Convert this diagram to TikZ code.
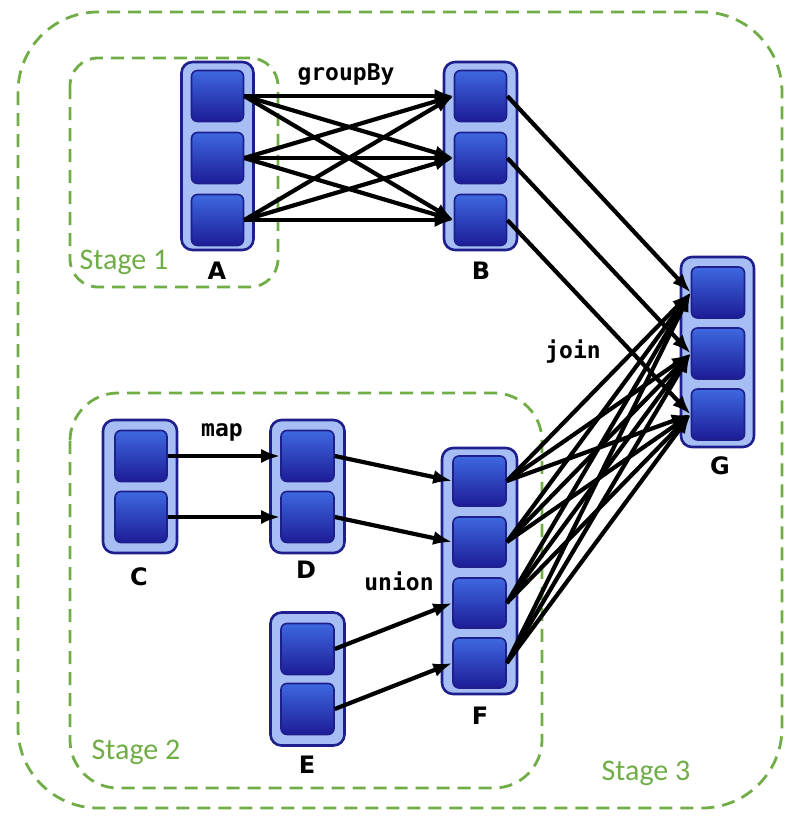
\documentclass[tikz,border=0pt]{standalone}
\usepackage{fontspec}
\usetikzlibrary{arrows.meta}
\newfontfamily\codefont{DejaVu Sans Mono}
\newfontfamily\letterfont{DejaVu Sans}
\newfontfamily\stagefont{Carlito}

\definecolor{navy}{RGB}{30,30,140}
\definecolor{rddfill}{RGB}{166,190,244}
\definecolor{parttop}{RGB}{62,104,224}
\definecolor{partbot}{RGB}{28,28,150}
\definecolor{stagegreen}{RGB}{112,173,71}

\tikzset{
  part/.style={draw=navy, line width=1.6pt, rounded corners=6pt,
    top color=parttop, bottom color=partbot,
    minimum width=52pt, minimum height=51pt, inner sep=0pt},
  rdd/.style={draw=navy, line width=2.6pt, rounded corners=11pt,
    fill=rddfill, inner sep=0pt},
  stagebox/.style={draw=stagegreen, line width=2.8pt,
    dash pattern=on 13pt off 8pt},
  stagelabel/.style={text=stagegreen, font=\stagefont\fontsize{30}{34}\selectfont},
  rddname/.style={font=\letterfont\bfseries\fontsize{24}{28}\selectfont},
  oplabel/.style={font=\codefont\bfseries\fontsize{23}{27}\selectfont},
  flow/.style={line width=4.2pt, -{Latex[length=19pt,width=14pt]}},
}

\begin{document}
\begin{tikzpicture}[x=1pt, y=-1pt]
\useasboundingbox (0,0) rectangle (795,822);

% stages
\draw[stagebox, rounded corners=80pt] (18,12) rectangle (782,808);
\draw[stagebox, rounded corners=28pt] (70,58) rectangle (278,287);
\draw[stagebox, rounded corners=48pt] (70,393) rectangle (542,788);
\node[stagelabel] (s1) at (124,262) {Stage 1};
\node[stagelabel] (s2) at (136,752) {Stage 2};
\node[stagelabel] (s3) at (646,773) {Stage 3};

% RDD containers
\node[rdd, minimum width=72pt, minimum height=188pt] (A) at (217.5,156) {};
\node[rdd, minimum width=73pt, minimum height=188pt] (B) at (480.5,156) {};
\node[rdd, minimum width=73pt, minimum height=190pt] (G) at (717.5,352) {};
\node[rdd, minimum width=74pt, minimum height=133pt] (C) at (140,486.5) {};
\node[rdd, minimum width=74pt, minimum height=133pt] (D) at (307.5,486.5) {};
\node[rdd, minimum width=74pt, minimum height=133pt] (E) at (307.5,679) {};
\node[rdd, minimum width=75pt, minimum height=246pt] (F) at (479.5,571) {};

% partitions
\foreach \i/\y in {1/96,2/158,3/220} {
  \node[part] (A\i) at (217.5,\y) {};
  \node[part] (B\i) at (480.5,\y) {};
}
\foreach \i/\y in {1/292.5,2/353.5,3/414.5}
  \node[part, minimum width=53pt] (G\i) at (718,\y) {};
\foreach \i/\y in {1/456,2/517} {
  \node[part] (C\i) at (141,\y) {};
  \node[part, minimum width=53pt] (D\i) at (307.5,\y) {};
}
\foreach \i/\y in {1/649,2/709}
  \node[part, minimum width=53pt] (E\i) at (307.5,\y) {};
\foreach \i/\y in {1/481,2/542,3/603,4/663}
  \node[part, minimum width=53pt, minimum height=50pt] (F\i) at (479.5,\y) {};

% names
\node[rddname] (la) at (217,271) {A};
\node[rddname] (lb) at (481,271) {B};
\node[rddname] (lg) at (720,466) {G};
\node[rddname] (lc) at (139,577) {C};
\node[rddname] (ld) at (306,570) {D};
\node[rddname] (le) at (307,765) {E};
\node[rddname] (lf) at (480,716) {F};

% operations
\node[oplabel] (gb) at (346,74) {groupBy};
\node[oplabel] (jn) at (573,352) {join};
\node[oplabel] (mp) at (222,432) {map};
\node[oplabel] (un) at (399,581) {union};

% groupBy: every A partition to every B partition
\foreach \i in {1,2,3}
  \foreach \j in {1,2,3}
    \draw[flow] (A\i.east) -- (B\j.west);

% join, narrow side: B partitions to matching G partitions
\foreach \i in {1,2,3}
  \draw[flow] (B\i.east) -- (G\i.west);

% join, wide side: every F partition to every G partition
\foreach \i in {1,2,3,4}
  \foreach \j in {1,2,3}
    \draw[flow] (F\i.east) -- (G\j.west);

% map
\draw[flow] (C1.east) -- (D1.west);
\draw[flow] (C2.east) -- (D2.west);

% union
\draw[flow] (D1.east) -- (F1.west);
\draw[flow] (D2.east) -- (F2.west);
\draw[flow] (E1.east) -- (F3.west);
\draw[flow] (E2.east) -- (F4.west);
\end{tikzpicture}
\end{document}
